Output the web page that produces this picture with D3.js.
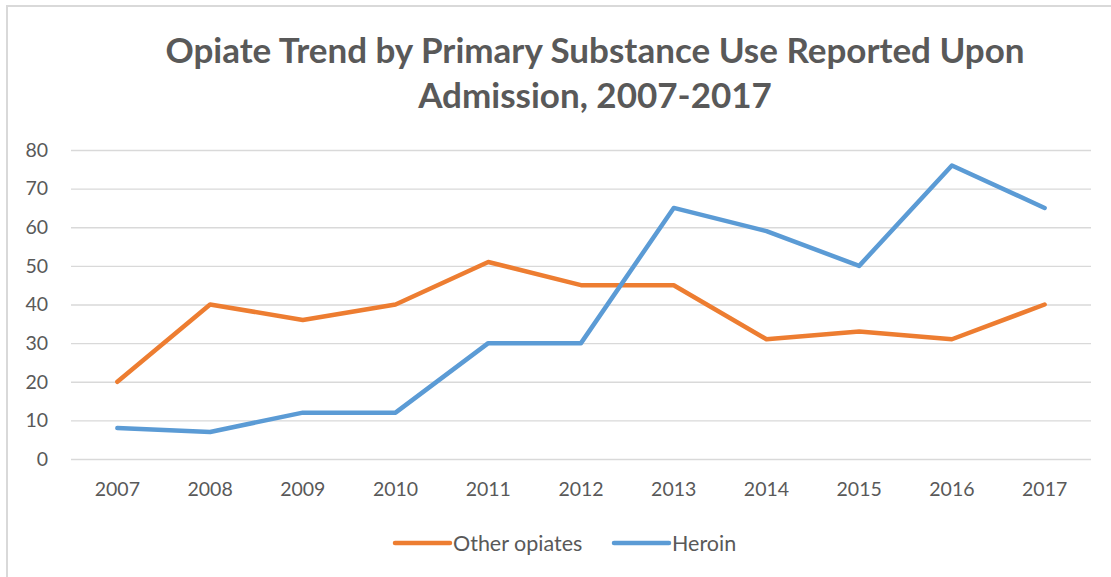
<!DOCTYPE html>
<html><head><meta charset="utf-8">
<script src="https://cdn.jsdelivr.net/npm/d3@7"></script>
<style>body{margin:0;background:#fff}svg{display:block}</style>
</head><body><svg id="c" width="1111" height="577"></svg>
<script>
const years = ["2007","2008","2009","2010","2011","2012","2013","2014","2015","2016","2017"];
const otherOpiates = [20,40,36,40,51,45,45,31,33,31,40];
const heroin = [8,7,12,12,30,30,65,59,50,76,65];
const yTicks = [0,10,20,30,40,50,60,70,80];
const seriesNames = ["Other opiates","Heroin"];
const colors = ["#ED7D31","#5B9BD5"];
const titleLines = ["Opiate Trend by Primary Substance Use Reported Upon","Admission, 2007-2017"];

const svg = d3.select("#c");
const font = "Lato, 'Open Sans', sans-serif";
// border
svg.append("path").attr("d","M7,577 L7,6 L1111,6").attr("fill","none").attr("stroke","#d9d9d9").attr("stroke-width",2);

const x = d3.scaleBand().domain(years).range([71,1091]);
const y = d3.scaleLinear().domain([0,80]).range([459,150]);

// title
svg.append("g").selectAll("text").data(titleLines).join("text")
  .attr("x",595).attr("y",(d,i)=>63+i*45).attr("text-anchor","middle")
  .attr("font-family",font).attr("font-weight","bold").attr("font-size",35)
  .attr("fill","#595959").text(d=>d);

// grid
const yAxis = d3.axisLeft(y).tickValues(yTicks).tickSize(-(1091-71)).tickPadding(23);
const gy = svg.append("g").attr("transform","translate(71,0)").call(yAxis);
gy.select(".domain").remove();
gy.selectAll(".tick line").attr("stroke","#d9d9d9").attr("stroke-width",1.3);
gy.selectAll(".tick text").attr("font-family",font).attr("font-size",19.5).attr("fill","#595959");

const xAxis = d3.axisBottom(x).tickSize(0).tickPadding(23);
const gx = svg.append("g").attr("transform","translate(0,459)").call(xAxis);
gx.select(".domain").remove();
gx.selectAll(".tick text").attr("font-family",font).attr("font-size",19.5).attr("fill","#595959");

const line = d3.line().x((d,i)=>x(years[i])+x.bandwidth()/2).y(d=>y(d));
[otherOpiates, heroin].forEach((s,k)=>{
  svg.append("path").datum(s).attr("d",line).attr("fill","none")
    .attr("stroke",colors[k]).attr("stroke-width",4.5)
    .attr("stroke-linejoin","round").attr("stroke-linecap","round");
});

// legend
const legX = [395, 614];
seriesNames.forEach((n,k)=>{
  svg.append("line").attr("x1",legX[k]).attr("x2",legX[k]+55).attr("y1",543).attr("y2",543)
    .attr("stroke",colors[k]).attr("stroke-width",4.5).attr("stroke-linecap","round");
  svg.append("text").attr("x",legX[k]+58).attr("y",550.5).attr("font-family",font)
    .attr("font-size",21.5).attr("fill","#595959").text(n);
});
</script></body></html>
